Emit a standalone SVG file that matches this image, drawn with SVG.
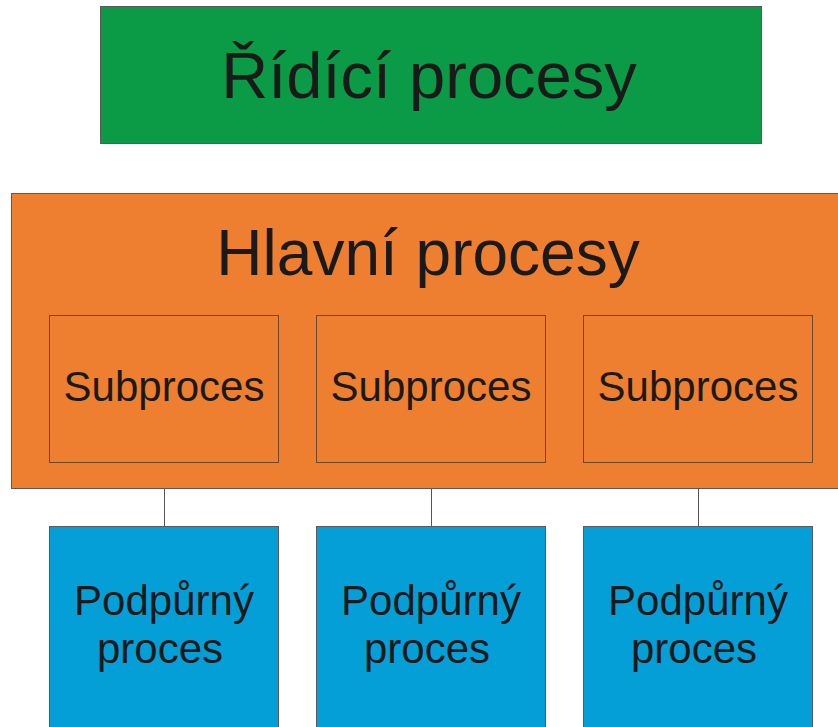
<svg xmlns="http://www.w3.org/2000/svg" width="838" height="727" viewBox="0 0 838 727">
<style>
text{font-family:"Liberation Sans",Arial,sans-serif;fill:#1a1a1a;text-anchor:middle}
.box{stroke:#5a5a5a;stroke-width:1}
.g{fill:#0b9a45}
.o{fill:#ee7f30}
.sub{fill:#ee7f30;stroke:#6b4a2a;stroke-width:1}
.b{fill:#059fd8}
.t{font-size:42px}
.conn line{stroke:#555;stroke-width:1}
</style>
<rect width="838" height="727" fill="#ffffff"/>
<g id="ridici">
<rect class="box g" x="100.5" y="6.5" width="661" height="137"/>
<text x="429" y="98" font-size="65">Řídící procesy</text>
</g>
<g id="hlavni">
<rect class="box o" x="11.5" y="193.5" width="828" height="295"/>
<text x="428" y="275" font-size="64">Hlavní procesy</text>
</g>
<g id="sub1">
<rect class="sub" x="49.5" y="315.5" width="229" height="147"/>
<text class="t" x="164" y="401">Subproces</text>
</g>
<g id="sub2">
<rect class="sub" x="316.5" y="315.5" width="229" height="147"/>
<text class="t" x="431" y="401">Subproces</text>
</g>
<g id="sub3">
<rect class="sub" x="583.5" y="315.5" width="229" height="147"/>
<text class="t" x="698" y="401">Subproces</text>
</g>
<g class="conn" id="connectors">
<line x1="164.5" y1="489" x2="164.5" y2="526"/>
<line x1="431.5" y1="489" x2="431.5" y2="526"/>
<line x1="698.5" y1="489" x2="698.5" y2="526"/>
</g>
<g id="podpurny1">
<rect class="box b" x="49.5" y="526.5" width="229" height="210"/>
<text class="t" x="164" y="615">Podpůrný</text>
<text class="t" x="160" y="663">proces</text>
</g>
<g id="podpurny2">
<rect class="box b" x="316.5" y="526.5" width="229" height="210"/>
<text class="t" x="431" y="615">Podpůrný</text>
<text class="t" x="427" y="663">proces</text>
</g>
<g id="podpurny3">
<rect class="box b" x="583.5" y="526.5" width="229" height="210"/>
<text class="t" x="698" y="615">Podpůrný</text>
<text class="t" x="694" y="663">proces</text>
</g>
</svg>
